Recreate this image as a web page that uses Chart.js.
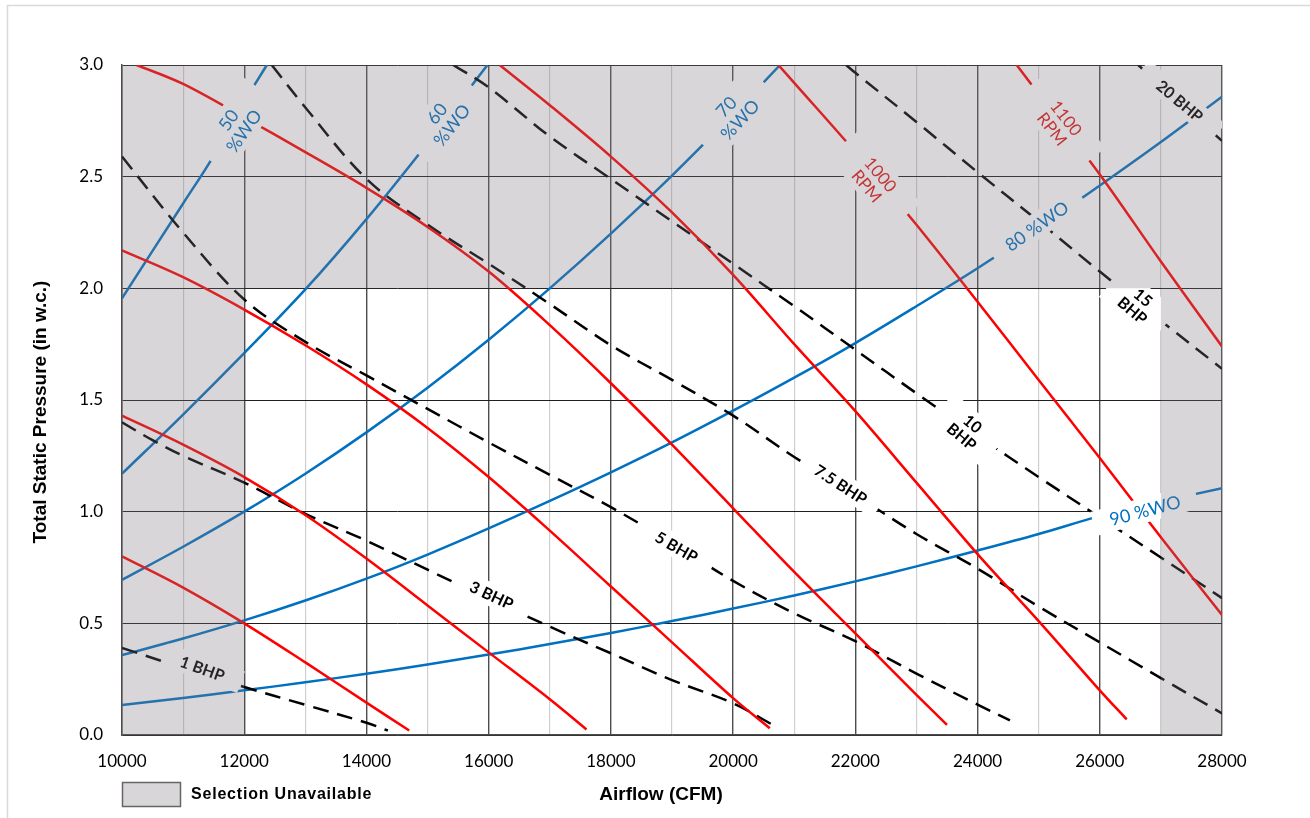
<!DOCTYPE html>
<html>
<head>
<meta charset="utf-8">
<title>Fan Performance Curve</title>
<script src="https://cdn.jsdelivr.net/npm/chart.js@4.4.1/dist/chart.umd.min.js"></script>
<style>
  html, body { margin: 0; padding: 0; background: #fff; overflow: hidden; }
  #wrap { position: relative; width: 1310px; height: 818px; }
</style>
</head>
<body>
<div id="wrap"><canvas id="fanChart"></canvas></div>
<script>
// Fan curve data - [airflow CFM, total static pressure in w.c.]

// RPM curves (red)
const rpm500  = [[10000,0.80],[11000,0.66],[12000,0.50],[13000,0.325],[14000,0.145],[14700,0.02]];
const rpm600  = [[10000,1.43],[11000,1.30],[12000,1.155],[13000,0.985],[14000,0.79],[15000,0.58],[16000,0.37],[17000,0.16],[17600,0.025]];
const rpm700  = [[10000,2.17],[11000,2.05],[12000,1.905],[13000,1.745],[14000,1.57],[15000,1.375],[16000,1.155],[17000,0.915],[18000,0.665],[19000,0.415],[20000,0.165],[20600,0.03]];
const rpm800  = [[10240,3.0],[11000,2.915],[12000,2.765],[13000,2.61],[14000,2.45],[15000,2.275],[16000,2.075],[17000,1.835],[18000,1.575],[19000,1.30],[20000,1.015],[21000,0.73],[22000,0.455],[23000,0.18],[23500,0.045]];
const rpm900  = [[16180,3.0],[17000,2.82],[18000,2.59],[19000,2.34],[20000,2.06],[21000,1.75],[22000,1.45],[23000,1.13],[24000,0.81],[25000,0.51],[26000,0.20],[26440,0.07]];
const rpm1000 = [[20740,3.0],[21000,2.92],[22000,2.61],[23000,2.285],[24000,1.94],[25000,1.59],[26000,1.24],[27000,0.885],[28000,0.537]];
const rpm1100 = [[24640,3.0],[25000,2.87],[26000,2.51],[27000,2.12],[28000,1.74]];

// Brake horsepower curves (black dashed)
const bhp1   = [[10000,0.39],[11000,0.30],[12000,0.215],[13000,0.135],[14000,0.055],[14350,0.02]];
const bhp3   = [[10000,1.40],[10500,1.32],[11000,1.25],[12000,1.13],[13000,0.99],[14000,0.87],[15000,0.74],[16000,0.61],[17000,0.485],[18000,0.366],[19000,0.246],[20000,0.142],[20650,0.045]];
const bhp5   = [[10000,2.59],[11000,2.25],[12000,1.95],[13000,1.76],[14000,1.61],[15000,1.46],[16000,1.31],[17000,1.165],[18000,1.02],[19000,0.86],[20000,0.69],[21000,0.545],[22000,0.42],[23000,0.275],[24000,0.136],[24530,0.065]];
const bhp7_5 = [[12450,3.0],[13000,2.81],[14000,2.49],[15000,2.285],[16000,2.11],[17000,1.93],[18000,1.745],[19000,1.59],[20000,1.43],[21000,1.245],[22000,1.075],[23000,0.90],[24000,0.745],[25000,0.575],[26000,0.415],[27000,0.255],[28000,0.097]];
const bhp10  = [[15420,3.0],[16000,2.90],[17000,2.68],[18000,2.49],[19000,2.30],[20000,2.11],[21000,1.92],[22000,1.725],[23000,1.53],[24000,1.34],[25000,1.155],[26000,0.975],[27000,0.795],[28000,0.613]];
const bhp15  = [[21850,3.0],[22000,2.965],[23000,2.745],[24000,2.52],[25000,2.30],[26000,2.075],[27000,1.855],[28000,1.64]];
const bhp20  = [[26630,3.0],[27000,2.905],[28000,2.66]];

// Percent wide open curves (blue)
const wo50 = [[10000,1.955],[11000,2.38],[11470,2.58],[12000,2.835],[12370,3.0]];
const wo60 = [[10000,1.17],[11000,1.435],[12000,1.71],[13000,1.995],[14000,2.31],[15000,2.65],[15980,3.0]];
const wo70 = [[10000,0.695],[11000,0.843],[12000,1.0],[13000,1.17],[14000,1.355],[15000,1.555],[16000,1.77],[17000,2.0],[18000,2.245],[19000,2.505],[20000,2.78],[20770,3.0]];
const wo80 = [[10000,0.358],[11000,0.432],[12000,0.513],[13000,0.602],[14000,0.70],[15000,0.808],[16000,0.925],[17000,1.048],[18000,1.176],[19000,1.31],[20000,1.452],[21000,1.60],[22000,1.755],[23000,1.92],[24000,2.09],[25000,2.27],[26000,2.46],[27000,2.655],[28000,2.858]];
const wo90 = [[10000,0.134],[11000,0.166],[12000,0.20],[13000,0.236],[14000,0.274],[15000,0.316],[16000,0.36],[17000,0.407],[18000,0.457],[19000,0.51],[20000,0.566],[21000,0.625],[22000,0.688],[23000,0.755],[24000,0.826],[25000,0.90],[26000,0.98],[27000,1.045],[28000,1.105]];

// Axis ranges and "selection unavailable" zones
const airflowRange = [10000, 28000];
const pressureRange = [0, 3];
const unavailableAirflow = [[10000, 12000], [27000, 28000]];
const unavailablePressureMin = 2.0;

const RED = '#ff0000';
const BLUE = '#0070c0';
const BLACK = '#000000';
const SHADE = 'rgba(125,118,125,0.3)';

// Curve labels (text lines, anchor in data units, rotation in degrees)
const curveLabels = [
  { lines: ['50', '%WO'],  at: [11862, 2.73],  angle: -55, color: BLUE, size: 18 },
  { lines: ['60', '%WO'],  at: [15269, 2.758], angle: -52, color: BLUE, size: 18 },
  { lines: ['70', '%WO'],  at: [19995, 2.785], angle: -47, color: BLUE, size: 18 },
  { lines: ['80 %WO'],     at: [24967, 2.28],  angle: -35, color: BLUE, size: 18, padX: 17 },
  { lines: ['90 %WO'],     at: [26740, 1.007], angle: -15, color: BLUE, size: 18, padX: 17 },
  { lines: ['1000', 'RPM'], at: [22306, 2.485], angle: 50, color: '#e01818', size: 17, padX: 28 },
  { lines: ['1100', 'RPM'], at: [25341, 2.739], angle: 52, color: '#e01818', size: 17, padX: 28 },
  { lines: ['1 BHP'],      at: [11317, 0.299], angle: 20, color: BLACK, size: 16, bold: true, padX: 18 },
  { lines: ['3 BHP'],      at: [16050, 0.627], angle: 25, color: BLACK, size: 16, bold: true, padX: 18 },
  { lines: ['5 BHP'],      at: [19076, 0.843], angle: 30, color: BLACK, size: 16, bold: true, padX: 18 },
  { lines: ['7.5 BHP'],    at: [21763, 1.123], angle: 33, color: BLACK, size: 16, bold: true, padX: 15 },
  { lines: ['10', 'BHP'],  at: [23835, 1.366], angle: 40, color: BLACK, size: 16, bold: true, padX: 18 },
  { lines: ['15', 'BHP'],  at: [26626, 1.931], angle: 40, color: BLACK, size: 16, bold: true, padX: 18 },
  { lines: ['20 BHP'],     at: [27313, 2.84],  angle: 40, color: BLACK, size: 16, bold: true, padX: 22 }
];

function curve(points, color, dashed) {
  return {
    data: points.map(p => ({ x: p[0], y: p[1] })),
    borderColor: color,
    borderWidth: 2.5,
    borderDash: dashed ? [16, 9] : [],
    borderCapStyle: 'butt',
    pointRadius: 0,
    showLine: true,
    fill: false,
    tension: 0.35
  };
}

const datasets = [
  curve(rpm500, RED), curve(rpm600, RED), curve(rpm700, RED), curve(rpm800, RED),
  curve(rpm900, RED), curve(rpm1000, RED), curve(rpm1100, RED),
  curve(bhp1, BLACK, true), curve(bhp3, BLACK, true), curve(bhp5, BLACK, true),
  curve(bhp7_5, BLACK, true), curve(bhp10, BLACK, true), curve(bhp15, BLACK, true), curve(bhp20, BLACK, true),
  curve(wo50, BLUE), curve(wo60, BLUE), curve(wo70, BLUE), curve(wo80, BLUE), curve(wo90, BLUE)
];

// white page + light outer frame
const framePlugin = {
  id: 'frame',
  beforeDraw(chart) {
    const ctx = chart.ctx;
    ctx.save();
    ctx.fillStyle = '#fff';
    ctx.fillRect(0, 0, chart.width, chart.height);
    ctx.strokeStyle = '#d9d9d9';
    ctx.lineWidth = 1.5;
    ctx.strokeRect(7.5, 5.5, chart.width + 20, chart.height + 20);
    ctx.restore();
  }
};

// labels with boxes, then the grey "unavailable" shading on top
const labelPlugin = {
  id: 'curveLabels',
  afterDatasetsDraw(chart) {
    const { ctx, chartArea, scales } = chart;
    const x = scales.x, y = scales.y;
    ctx.save();
    ctx.beginPath();
    ctx.rect(chartArea.left, chartArea.top, chartArea.right - chartArea.left, chartArea.bottom - chartArea.top);
    ctx.clip();

    curveLabels.forEach(l => {
      const px = x.getPixelForValue(l.at[0]);
      const py = y.getPixelForValue(l.at[1]);
      ctx.save();
      ctx.translate(px, py);
      ctx.rotate(l.angle * Math.PI / 180);
      ctx.font = (l.bold ? 'bold ' : '') + l.size + 'px Lato, "Open Sans", sans-serif';
      const lh = l.size * 1.05;
      const w = Math.max(...l.lines.map(t => ctx.measureText(t).width)) + 2 * (l.padX || 20);
      const h = l.lines.length * lh + 6;
      ctx.fillStyle = '#fff';
      ctx.fillRect(-w / 2, -h / 2, w, h);
      ctx.fillStyle = l.color;
      ctx.textAlign = 'center';
      ctx.textBaseline = 'middle';
      l.lines.forEach((t, i) => {
        ctx.fillText(t, 0, (i - (l.lines.length - 1) / 2) * lh + 1);
      });
      ctx.restore();
    });

    // grey zones as one path so overlaps are not shaded twice
    ctx.beginPath();
    const top = y.getPixelForValue(pressureRange[1]);
    const bottom = y.getPixelForValue(pressureRange[0]);
    unavailableAirflow.forEach(r => {
      const x0 = x.getPixelForValue(r[0]), x1 = x.getPixelForValue(r[1]);
      ctx.rect(x0, top, x1 - x0, bottom - top);
    });
    const yMin = y.getPixelForValue(unavailablePressureMin);
    const xl = x.getPixelForValue(airflowRange[0]), xr = x.getPixelForValue(airflowRange[1]);
    ctx.rect(xl, top, xr - xl, yMin - top);
    ctx.fillStyle = SHADE;
    ctx.fill('nonzero');
    ctx.restore();
  }
};

// axis titles and legend
const titlePlugin = {
  id: 'titles',
  afterDraw(chart) {
    const ctx = chart.ctx;
    ctx.save();
    ctx.fillStyle = '#000';
    ctx.textBaseline = 'middle';
    ctx.textAlign = 'center';

    ctx.save();
    ctx.translate(41, 412);
    ctx.rotate(-Math.PI / 2);
    ctx.font = 'bold 19px "Liberation Sans", Arial, sans-serif';
    ctx.fillText('Total Static Pressure (in w.c.)', 0, 0);
    ctx.restore();

    ctx.font = 'bold 19px "Liberation Sans", Arial, sans-serif';
    ctx.fillText('Airflow (CFM)', 661, 795);

    ctx.fillStyle = '#d8d6d8';
    ctx.fillRect(122.5, 782.5, 58, 24);
    ctx.strokeStyle = '#666';
    ctx.lineWidth = 1.5;
    ctx.strokeRect(122.5, 782.5, 58, 24);
    ctx.fillStyle = '#000';
    ctx.textAlign = 'left';
    ctx.font = 'bold 16px "Liberation Sans", Arial, sans-serif';
    ctx.letterSpacing = '0.8px';
    ctx.fillText('Selection Unavailable', 191, 795);
    ctx.restore();
  }
};

new Chart(document.getElementById('fanChart'), {
  type: 'scatter',
  data: { datasets },
  options: {
    responsive: true,
    maintainAspectRatio: false,
    animation: false,
    events: [],
    layout: { padding: { top: 65, right: 88, bottom: 0, left: 0 } },
    plugins: { legend: { display: false }, tooltip: { enabled: false } },
    scales: {
      x: {
        type: 'linear',
        min: airflowRange[0],
        max: airflowRange[1],
        afterFit: s => { s.height = 83; },
        border: { color: '#4d4d4d', width: 1.5 },
        grid: {
          drawTicks: false,
          color: c => (c.tick && c.tick.value % 2000 === 0) ? '#4d4d4d' : '#cfcfcf',
          lineWidth: c => (c.tick && c.tick.value % 2000 === 0) ? 1.4 : 1.2
        },
        ticks: {
          stepSize: 1000,
          autoSkip: false,
          maxRotation: 0,
          padding: 16,
          color: '#000',
          font: { family: 'Lato, "Open Sans", sans-serif', size: 17 },
          callback: v => (v % 2000 === 0) ? String(v) : ''
        }
      },
      y: {
        min: pressureRange[0],
        max: pressureRange[1],
        afterFit: s => { s.width = 122; },
        border: { color: '#4d4d4d', width: 1.5 },
        grid: { drawTicks: false, color: '#1f1f1f', lineWidth: 1 },
        ticks: {
          stepSize: 0.5,
          padding: 19,
          color: '#000',
          font: { family: 'Lato, "Open Sans", sans-serif', size: 17 },
          callback: v => v.toFixed(1)
        }
      }
    }
  },
  plugins: [framePlugin, labelPlugin, titlePlugin]
});
</script>
</body>
</html>
